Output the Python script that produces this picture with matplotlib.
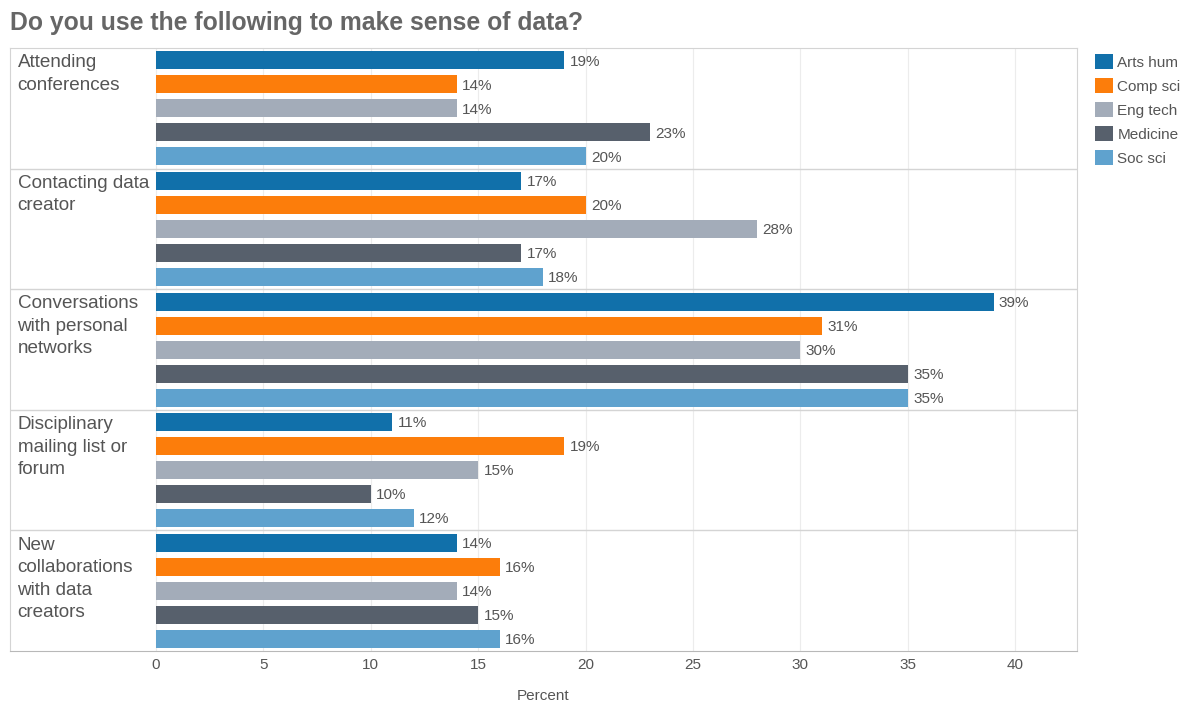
import matplotlib.pyplot as plt
from matplotlib.patches import Patch

plt.rcParams['font.family'] = ['Liberation Sans', 'DejaVu Sans']

categories = [
    "Attending\nconferences",
    "Contacting data\ncreator",
    "Conversations\nwith personal\nnetworks",
    "Disciplinary\nmailing list or\nforum",
    "New\ncollaborations\nwith data\ncreators",
]
series = ["Arts hum", "Comp sci", "Eng tech", "Medicine", "Soc sci"]
colors = ["#1170aa", "#fc7d0b", "#a3acb9", "#57606c", "#5fa2ce"]
values = [
    [19, 17, 39, 11, 14],  # Arts hum
    [14, 20, 31, 19, 16],  # Comp sci
    [14, 28, 30, 15, 14],  # Eng tech
    [23, 17, 35, 10, 15],  # Medicine
    [20, 18, 35, 12, 16],  # Soc sci
]
xticks = [0, 5, 10, 15, 20, 25, 30, 35, 40]

W, H = 1186, 702
fig = plt.figure(figsize=(W / 100, H / 100), dpi=100)
ax = fig.add_axes([10 / W, 1 - 651 / H, 1067 / W, 603 / H])

px_per_unit = (1015 - 156) / 40
xmin = -(156 - 10) / px_per_unit
xmax = (1077 - 156) / px_per_unit
ax.set_xlim(xmin, xmax)
ax.set_ylim(len(categories), 0)

step = 24 / 120.6
bar_h = 18 / 120.6
text_col = "#555555"

for j, (name, col, vals) in enumerate(zip(series, colors, values)):
    ys = [i + 0.5 + (j - 2) * step for i in range(len(categories))]
    ax.barh(ys, vals, height=bar_h, color=col, zorder=3)
    for y, v in zip(ys, vals):
        ax.text(v + 0.25, y + 0.01, f"{v}%", va="center", ha="left",
                fontsize=11, color=text_col, zorder=4)

for i, cat in enumerate(categories):
    ax.text(xmin + 0.35, i + 0.052, cat, va="top", ha="left",
            fontsize=13.6, color=text_col, linespacing=1.42)
    if i > 0:
        ax.axhline(i, color="#d4d4d4", lw=1, zorder=2)

for t in xticks:
    ax.axvline(t, color="#ececec", lw=0.8, zorder=1)

ax.set_xticks(xticks)
ax.set_yticks([])
ax.tick_params(axis="x", length=0, pad=5, labelsize=11, labelcolor=text_col)
ax.set_xlabel("Percent", fontsize=11, color=text_col, labelpad=12)

for s in ["top", "left", "right"]:
    ax.spines[s].set_color("#d4d4d4")
ax.spines["bottom"].set_color("#b8b8b8")

fig.text(10 / W, 1 - 23 / H, "Do you use the following to make sense of data?",
         fontsize=17.8, fontweight="bold", color="#666666", va="center", ha="left")

handles = [Patch(facecolor=c, edgecolor="none") for c in colors]
fig.legend(handles, series, loc="upper left",
           bbox_to_anchor=(1089 / W, 1 - 48 / H), frameon=False,
           fontsize=11, handlelength=1.15, handleheight=1.1,
           handletextpad=0.3, labelspacing=0.56, labelcolor=text_col,
           borderaxespad=0)

fig.savefig("out.png", dpi=100)
